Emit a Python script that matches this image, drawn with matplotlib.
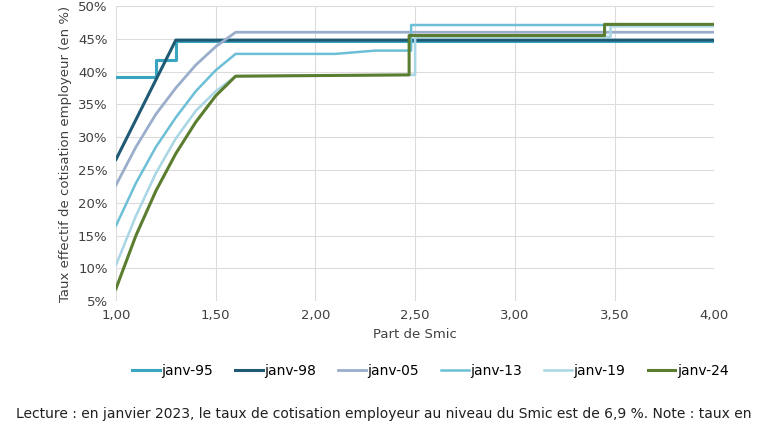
import matplotlib
matplotlib.use("Agg")
import matplotlib.pyplot as plt
from matplotlib.ticker import FuncFormatter

# values (Part de Smic -> taux en %)
x95 = [1.00, 1.20, 1.20, 1.30, 1.30, 4.00]
y95 = [39.1, 39.1, 41.8, 41.8, 44.6, 44.6]

x98 = [1.00, 1.30, 4.00]
y98 = [26.6, 44.8, 44.8]

x05 = [1.00, 1.10, 1.20, 1.30, 1.40, 1.50, 1.60, 4.00]
y05 = [22.7, 28.5, 33.5, 37.5, 41.0, 43.8, 46.0, 46.0]

x13 = [1.00, 1.10, 1.20, 1.30, 1.40, 1.50, 1.60, 2.10, 2.30, 2.48, 2.48, 4.00]
y13 = [16.5, 23.0, 28.5, 33.0, 37.0, 40.2, 42.7, 42.7, 43.2, 43.2, 47.1, 47.1]

x19 = [1.00, 1.10, 1.20, 1.30, 1.40, 1.50, 1.60, 2.50, 2.50, 3.48, 3.48, 4.00]
y19 = [10.5, 18.0, 24.5, 29.8, 34.0, 37.0, 39.3, 39.5, 45.3, 45.3, 46.9, 46.9]

x24 = [1.00, 1.10, 1.20, 1.30, 1.40, 1.50, 1.60, 2.47, 2.47, 3.45, 3.45, 4.00]
y24 = [6.9, 15.0, 21.8, 27.5, 32.3, 36.3, 39.3, 39.5, 45.5, 45.5, 47.2, 47.2]

series = [
    ("janv-95", x95, y95, "#3aa5c0", 2.2),
    ("janv-98", x98, y98, "#1f5a74", 2.2),
    ("janv-05", x05, y05, "#9aaecb", 2.0),
    ("janv-13", x13, y13, "#6cbfd6", 1.8),
    ("janv-19", x19, y19, "#a8d6e4", 1.8),
    ("janv-24", x24, y24, "#5b7d2f", 2.2),
]

fig = plt.figure(figsize=(7.68, 4.29), dpi=100)
ax = fig.add_axes([0.151, 0.298, 0.779, 0.688])

for name, xs, ys, col, lw in series:
    ax.plot(xs, ys, color=col, lw=lw, label=name)

ax.set_xlim(1, 4)
ax.set_ylim(5, 50)
ax.set_xticks([1, 1.5, 2, 2.5, 3, 3.5, 4])
ax.set_yticks(range(5, 51, 5))
ax.xaxis.set_major_formatter(FuncFormatter(lambda v, p: f"{v:.2f}".replace(".", ",")))
ax.yaxis.set_major_formatter(FuncFormatter(lambda v, p: f"{v:.0f}%"))
ax.grid(True, color="#dcdcdc", lw=0.8)
ax.set_axisbelow(True)
for s in ax.spines.values():
    s.set_visible(False)
ax.tick_params(length=0, labelsize=9.5, colors="#404040", pad=6)
ax.set_xlabel("Part de Smic", fontsize=9.5, color="#404040")
ax.set_ylabel("Taux effectif de cotisation employeur (en %)", fontsize=9.5, color="#404040")

fig.legend(loc="center", bbox_to_anchor=(0.56, 0.135), ncol=6, frameon=False,
           fontsize=10, handlelength=2.0, handletextpad=0.1, columnspacing=1.6)
fig.text(0.5, 0.025, "Lecture : en janvier 2023, le taux de cotisation employeur au niveau du Smic est de 6,9 %. Note : taux en",
         ha="center", fontsize=10, color="#202020")

fig.savefig("out.png", dpi=100)
